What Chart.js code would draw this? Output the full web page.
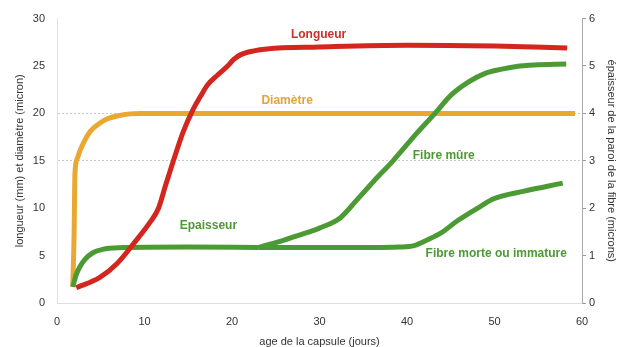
<!DOCTYPE html>
<html>
<head>
<meta charset="utf-8">
<script src="https://cdn.jsdelivr.net/npm/chart.js@4"></script>
<style>
  html, body { margin: 0; padding: 0; background: #fff; }
  #wrap { width: 618px; height: 347px; }
</style>
</head>
<body>
<div id="wrap"><canvas id="chart" width="618" height="347"></canvas></div>
<script>
// age de la capsule (jours) -> valeurs
const longueurX = [2.2, 4.9, 6.9, 8.7, 10.7, 11.6, 12.4, 13.3, 14.4, 15.6, 16.4, 17.2, 18.3, 19.5, 20.2, 21, 22.5, 24, 30, 40, 50, 58.3];
const longueurY = [1.6, 2.7, 4.2, 6.2, 8.6, 10, 12.4, 15, 18, 20.5, 21.8, 23, 24.0, 25.0, 25.7, 26.2, 26.6, 26.8, 27.0, 27.2, 27.1, 26.9];

const diametreX = [1.8, 1.95, 2.05, 2.3, 2.6, 3.2, 3.8, 4.8, 5.7, 7.0, 8.3, 9.5, 59.2];
const diametreY = [1.7, 7, 13.6, 15.2, 16.0, 17.2, 18.1, 18.9, 19.4, 19.75, 19.95, 20, 20];

// épaisseur (axe de droite, microns)
const epaisseurX = [1.8, 2.2, 2.6, 3.2, 4.1, 5.2, 6.5, 8, 15, 23];
const epaisseurY = [0.34, 0.6, 0.76, 0.92, 1.06, 1.13, 1.16, 1.17, 1.18, 1.17];

const mureX = [23, 25.5, 27.5, 30, 32.4, 34.3, 36.2, 38.4, 41.2, 43.2, 45, 47, 49, 50.7, 52.5, 54.5, 58.2];
const mureY = [1.17, 1.3, 1.42, 1.58, 1.8, 2.18, 2.57, 3.0, 3.6, 4.0, 4.38, 4.66, 4.85, 4.93, 4.99, 5.02, 5.04];

const morteX = [23, 30, 36, 39, 40.8, 42.3, 43.9, 45.8, 48.5, 49.9, 53.4, 57.8];
const morteY = [1.17, 1.17, 1.17, 1.18, 1.21, 1.33, 1.48, 1.74, 2.05, 2.2, 2.36, 2.53];

const xTicks = [0, 10, 20, 30, 40, 50, 60];
const leftTicks = [0, 5, 10, 15, 20, 25, 30];
const rightTicks = [0, 1, 2, 3, 4, 5, 6];

const RED = "#d2261e";
const ORANGE = "#e9a832";
const GREEN = "#4c9a33";

// étiquettes posées dans le graphique (x en jours, y sur l'axe de gauche)
const labels = [
  { text: "Longueur", x: 29.9, y: 28.3, color: "#c9302a" },
  { text: "Diamètre", x: 26.3, y: 21.3, color: "#e3a437" },
  { text: "Epaisseur", x: 17.3, y: 8.15, color: GREEN },
  { text: "Fibre mûre", x: 44.2, y: 15.5, color: GREEN },
  { text: "Fibre morte ou immature", x: 50.2, y: 5.2, color: GREEN },
];

const pts = (xs, ys) => xs.map((x, i) => ({ x, y: ys[i] }));

function line(data, color, axis) {
  return {
    data,
    yAxisID: axis,
    borderColor: color,
    backgroundColor: color,
    borderWidth: 5,
    pointRadius: 0,
    fill: false,
    cubicInterpolationMode: "monotone",
    borderCapStyle: "butt",
    borderJoinStyle: "round",
  };
}

const labelPlugin = {
  id: "curveLabels",
  afterDatasetsDraw(chart) {
    const { ctx, scales } = chart;
    ctx.save();
    ctx.font = "bold 12px 'Liberation Sans', Arial, sans-serif";
    ctx.textAlign = "center";
    ctx.textBaseline = "middle";
    labels.forEach((l) => {
      ctx.fillStyle = l.color;
      ctx.fillText(l.text, scales.x.getPixelForValue(l.x), scales.y.getPixelForValue(l.y));
    });
    ctx.restore();
  },
};

const tickFont = { family: "'Liberation Sans', Arial, sans-serif", size: 11 };
const titleFont = { family: "'Liberation Sans', Arial, sans-serif", size: 11, lineHeight: 1 };

new Chart(document.getElementById("chart").getContext("2d"), {
  type: "line",
  data: {
    datasets: [
      line(pts(longueurX, longueurY), RED, "y"),
      line(pts(mureX, mureY), GREEN, "y2"),
      line(pts(morteX, morteY), GREEN, "y2"),
      line(pts(epaisseurX, epaisseurY), GREEN, "y2"),
      line(pts(diametreX, diametreY), ORANGE, "y"),
    ],
  },
  options: {
    responsive: false,
    animation: false,
    layout: { padding: { top: 16, left: 0, right: 0, bottom: 0 } },
    plugins: { legend: { display: false }, tooltip: { enabled: false } },
    scales: {
      x: {
        type: "linear",
        min: 0,
        max: 60,
        afterBuildTicks: (s) => { s.ticks = xTicks.map((v) => ({ value: v })); },
        afterFit: (s) => { s.height = 44; },
        grid: { display: false, drawTicks: false },
        border: { display: true, color: "#dedede" },
        ticks: { color: "#333", font: tickFont, padding: 12, maxRotation: 0 },
        title: { display: true, text: "age de la capsule (jours)", color: "#333", font: titleFont, padding: { top: 0, bottom: 0 } },
      },
      y: {
        position: "left",
        min: 0,
        max: 30,
        afterBuildTicks: (s) => { s.ticks = leftTicks.map((v) => ({ value: v })); },
        afterFit: (s) => { s.width = 57; },
        grid: {
          drawTicks: false,
          color: (c) => (c.tick && (c.tick.value === 15 || c.tick.value === 20) ? "#c8c8c8" : "rgba(0,0,0,0)"),
        },
        border: { display: true, color: "#e2e2e2", dash: [2, 2] },
        ticks: { color: "#333", font: tickFont, padding: 12 },
        title: { display: true, text: "longueur (mm) et diamètre (micron)", color: "#333", font: titleFont, padding: { top: 14, bottom: 0 } },
      },
      y2: {
        position: "right",
        min: 0,
        max: 6,
        afterBuildTicks: (s) => { s.ticks = rightTicks.map((v) => ({ value: v })); },
        afterFit: (s) => { s.width = 36; },
        grid: { drawOnChartArea: false, drawTicks: true, tickLength: 4, color: "#999" },
        border: { display: true, color: "#aaa" },
        ticks: { color: "#333", font: tickFont, padding: 3 },
        title: { display: true, text: "épaisseur de la paroi de la fibre (microns)", color: "#333", font: titleFont, padding: { top: 1, bottom: 0 } },
      },
    },
  },
  plugins: [labelPlugin],
});
</script>
</body>
</html>
